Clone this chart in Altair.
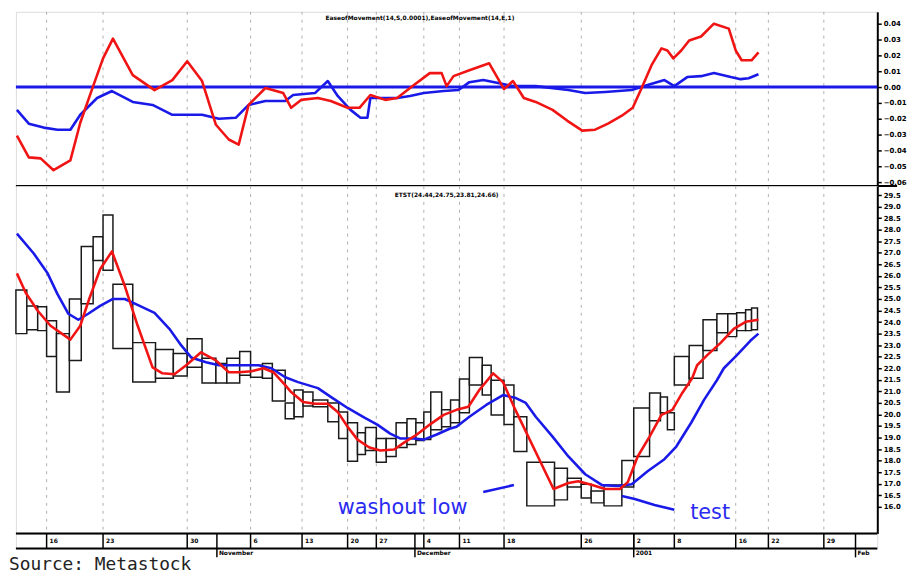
import altair as alt
import numpy as np
import pandas as pd

# ---------------- data ----------------
# Equivolume boxes: width = volume, top = high, bottom = low
box_volume = [11, 11, 9, 10, 13, 12, 12, 10, 10, 20, 23, 18, 14, 15, 14, 11, 13, 11, 12, 10,
              13, 9, 9, 10, 15, 11, 9, 10, 8, 11, 10, 10, 11, 9, 8, 7, 11, 9, 9, 10,
              13, 9, 13, 10, 13, 28, 13, 14, 10, 13, 18, 12, 16, 11, 7, 7, 15, 14, 14, 11,
              9, 9, 6, 6]
box_high = [25.39, 24.70, 24.66, 24.06, 23.50, 25.00, 27.27, 27.70, 28.64, 25.64, 23.11, 22.81, 22.64, 23.28,
            22.43, 22.21, 22.43, 22.73, 22.13, 22.21, 21.91, 20.50, 21.06, 20.97, 20.63, 20.50, 20.11, 19.64,
            19.21, 19.43, 18.96, 18.96, 19.64, 19.81, 19.64, 20.11, 20.97, 20.20, 20.63, 21.53, 22.47, 22.13,
            21.48, 21.27, 19.90, 17.93, 17.67, 17.24, 16.98, 16.68, 16.94, 18.01, 20.28, 20.93, 20.76, 20.07,
            22.51, 22.99, 24.10, 24.36, 24.36, 24.40, 24.53, 24.61]
box_low = [23.50, 23.67, 23.63, 22.51, 20.97, 22.34, 24.79, 26.67, 26.24, 22.86, 21.40, 21.57, 21.66, 22.04,
           21.36, 21.36, 21.36, 21.70, 21.61, 21.57, 20.58, 19.81, 19.90, 20.37, 20.33, 19.68, 18.96, 17.97,
           18.27, 18.44, 17.93, 18.18, 18.57, 18.70, 18.87, 18.91, 19.34, 19.47, 19.64, 20.07, 21.27, 20.84,
           19.98, 19.56, 18.40, 16.04, 16.30, 16.86, 16.38, 16.17, 16.04, 16.86, 18.18, 19.73, 20.07, 19.34,
           21.27, 21.57, 22.77, 23.54, 23.37, 23.63, 23.63, 23.67]

# price moving averages (position on the cumulative-volume axis, price)
ma_fast_u = [1, 10, 22, 35, 55, 65, 74, 85, 97, 110, 123, 138, 148, 160, 172, 187, 202, 215, 225, 238,
             250, 260, 272, 278, 290, 302, 315, 325, 335, 345, 357, 368, 382, 392, 405, 418, 432, 445, 457, 468,
             482, 492, 503, 543, 558, 568, 582, 595, 610, 618, 628, 640, 652, 663, 673, 683, 688, 698, 712, 725,
             737, 750]
ma_fast_p = [26.11, 25.26, 24.49, 23.84, 23.24, 23.84, 25.00, 26.29, 27.06, 25.56, 23.84, 22.04, 21.78, 21.74,
             22.13, 22.69, 22.34, 21.83, 21.83, 21.87, 22.00, 21.83, 21.27, 20.97, 20.54, 20.46, 20.46, 20.11,
             19.47, 18.91, 18.57, 18.44, 18.48, 18.78, 19.13, 19.56, 19.98, 20.20, 20.33, 21.06, 21.78, 21.40,
             20.33, 16.77, 17.03, 17.11, 16.94, 16.77, 16.77, 17.07, 18.18, 19.04, 19.98, 20.20, 20.93, 21.57,
             22.13, 22.56, 23.11, 23.71, 24.01, 24.10]
ma_slow_u = [1, 18, 32, 42, 53, 63, 73, 85, 98, 110, 125, 140, 155, 167, 177, 192, 205, 225, 245, 258,
             272, 285, 305, 318, 335, 352, 365, 378, 388, 402, 412, 425, 438, 445, 458, 475, 492, 505, 515, 525,
             542, 558, 575, 592, 608, 622, 638, 655, 667, 682, 695, 708, 715, 728, 742, 750]
ma_slow_p = [27.83, 26.97, 26.11, 25.21, 24.36, 24.10, 24.36, 24.70, 25.00, 25.00, 24.70, 24.40, 23.71, 22.99,
             22.47, 22.26, 22.13, 22.13, 22.13, 22.00, 21.61, 21.40, 21.14, 20.76, 20.28, 19.86, 19.56, 19.17,
             18.96, 18.96, 18.91, 19.13, 19.38, 19.47, 19.90, 20.41, 20.84, 20.71, 20.50, 19.90, 19.04, 18.18,
             17.41, 16.94, 16.90, 16.98, 17.54, 18.06, 18.61, 19.64, 20.63, 21.48, 22.00, 22.56, 23.20, 23.50]

# Ease of Movement (upper panel)
eom_fast_u = [1, 13, 25, 38, 55, 65, 78, 88, 98, 118, 140, 158, 173, 188, 202, 215, 225, 235, 252, 270,
              278, 288, 305, 318, 335, 347, 358, 373, 385, 402, 418, 430, 435, 442, 458, 478, 493, 502, 513, 525,
              542, 557, 572, 585, 598, 612, 623, 632, 642, 652, 658, 664, 672, 680, 692, 705, 720, 727, 733, 743,
              750]
eom_fast_v = [-0.0306, -0.0444, -0.0450, -0.0525, -0.0463, -0.0225, 0.0006, 0.0181, 0.0306, 0.0075, -0.0019,
              0.0044, 0.0163, 0.0038, -0.0238, -0.0331, -0.0363, -0.0113, -0.0006, -0.0038, -0.0131, -0.0081,
              -0.0069, -0.0088, -0.0131, -0.0131, -0.0050, -0.0081, -0.0069, 0.0013, 0.0088, 0.0088, 0.0006,
              0.0069, 0.0106, 0.0150, -0.0013, 0.0038, -0.0069, -0.0094, -0.0144, -0.0213, -0.0275, -0.0269,
              -0.0231, -0.0181, -0.0131, -0.0006, 0.0138, 0.0244, 0.0231, 0.0181, 0.0231, 0.0294, 0.0319,
              0.0400, 0.0369, 0.0231, 0.0169, 0.0169, 0.0219]
eom_slow_u = [1, 13, 28, 42, 55, 65, 82, 97, 118, 138, 158, 188, 205, 222, 235, 252, 272, 280, 302, 315,
              325, 338, 348, 355, 358, 368, 385, 398, 412, 432, 447, 458, 472, 492, 502, 525, 558, 575, 595, 622,
              638, 655, 665, 678, 692, 705, 722, 732, 740, 750]
eom_slow_v = [-0.0144, -0.0231, -0.0256, -0.0269, -0.0269, -0.0175, -0.0069, -0.0025, -0.0094, -0.0113,
              -0.0175, -0.0175, -0.0200, -0.0194, -0.0113, -0.0088, -0.0088, -0.0050, -0.0038, 0.0038,
              -0.0056, -0.0144, -0.0194, -0.0194, -0.0069, -0.0069, -0.0069, -0.0056, -0.0038, -0.0025,
              -0.0019, 0.0031, 0.0044, 0.0019, 0.0006, 0.0006, -0.0019, -0.0038, -0.0031, -0.0019,
              0.0013, 0.0044, 0.0006, 0.0063, 0.0069, 0.0088, 0.0063, 0.0050, 0.0056, 0.0081]
zero_level = [0.0]

# annotation pointers
washout_u = [472, 503]
washout_p = [16.64, 16.94]
test_u = [612, 625, 645, 665]
test_p = [16.47, 16.34, 16.08, 15.87]
note_text = ["washout low", "test"]
note_u = [325, 681]
note_p = [15.70, 15.48]

# time axis
date_tick_pos = [31, 88, 173, 237, 289, 335, 364, 412, 448, 493, 571, 624, 665, 727, 760, 816]
date_tick_labels = ["16", "23", "30", "6", "13", "20", "27", "4", "11", "18", "26", "2", "8", "16", "22", "29"]
month_pos = [203, 403, 624, 848]
month_labels = ["November", "December", "2001", "Feb"]

top_ticks = [0.04, 0.03, 0.02, 0.01, 0.0, -0.01, -0.02, -0.03, -0.04, -0.05, -0.06]
price_ticks = [29.5, 29.0, 28.5, 28.0, 27.5, 27.0, 26.5, 26.0, 25.5, 25.0, 24.5, 24.0, 23.5, 23.0,
               22.5, 22.0, 21.5, 21.0, 20.5, 20.0, 19.5, 19.0, 18.5, 18.0, 17.5, 17.0, 16.5, 16.0]

top_title = "EaseofMovement(14,S,0.0001),EaseofMovement(14,E,1)"
bottom_title = "ETST(24.44,24.75,23.81,24.66)"

# ---------------- frames ----------------
x_end = np.cumsum(box_volume)
boxes = pd.DataFrame({"x0": x_end - np.array(box_volume), "x1": x_end, "high": box_high, "low": box_low})
ma = pd.concat([
    pd.DataFrame({"u": ma_slow_u, "p": ma_slow_p, "s": "slow"}),
    pd.DataFrame({"u": ma_fast_u, "p": ma_fast_p, "s": "fast"}),
])
eom = pd.concat([
    pd.DataFrame({"u": eom_slow_u, "v": eom_slow_v, "s": "slow"}),
    pd.DataFrame({"u": eom_fast_u, "v": eom_fast_v, "s": "fast"}),
])
pointers = pd.concat([
    pd.DataFrame({"u": washout_u, "p": washout_p, "g": "w"}),
    pd.DataFrame({"u": test_u, "p": test_p, "g": "t"}),
])
notes = pd.DataFrame({"u": note_u, "p": note_p, "t": note_text})
dates = pd.DataFrame({"pos": date_tick_pos, "lab": date_tick_labels})
months = pd.DataFrame({"pos": month_pos, "lab": month_labels})

RED = "#f01414"
BLUE = "#1a1ae8"
W = 870
H_TOP = 176
H_BOT = 351
H_BAND = 15

xs = alt.Scale(domain=[0, W], nice=False, zero=False)
ys_top = alt.Scale(domain=[-0.0625, 0.0475], nice=False, zero=False)
ys_bot = alt.Scale(domain=[14.84, 29.89], nice=False, zero=False)

def right_axis(vals, fmt):
    return alt.Axis(orient="right", values=vals, format=fmt, title=None, grid=False,
                    domainColor="black", domainWidth=2, tickColor="black", tickSize=4,
                    tickWidth=1.5, labelFont="DejaVu Sans", labelFontSize=7,
                    labelFontWeight="bold", labelColor="black", labelPadding=2,
                    labelOverlap=False, labelFlush=False)

ax_top = right_axis(top_ticks, ".2f")
ax_bot = right_axis(price_ticks, ".1f")

X_u = alt.X("u:Q", scale=xs, axis=None)

grid_top = alt.Chart(dates).mark_rule(color="#b0b0b0", strokeDash=[3, 5], strokeWidth=1).encode(
    x=alt.X("pos:Q", scale=xs, axis=None))

zero = alt.Chart(pd.DataFrame({"v": zero_level})).mark_rule(color=BLUE, strokeWidth=3).encode(
    y=alt.Y("v:Q", scale=ys_top, axis=ax_top))

eom_lines = alt.Chart(eom).mark_line(strokeWidth=2.6, strokeJoin="round").encode(
    x=X_u,
    y=alt.Y("v:Q", scale=ys_top, axis=ax_top),
    color=alt.Color("s:N", scale=alt.Scale(domain=["slow", "fast"], range=[BLUE, RED]), legend=None),
)

sep = alt.Chart(pd.DataFrame({"a": [0]})).mark_rule(color="black", strokeWidth=2).encode(
    x=alt.value(0), x2=alt.value(890), y=alt.value(H_TOP))

top_lbl = alt.Chart(pd.DataFrame({"t": [top_title]})).mark_text(
    font="DejaVu Sans", fontSize=6, fontWeight="bold", color="black", align="center", baseline="middle"
).encode(x=alt.value(408), y=alt.value(6), text="t:N")

top = alt.layer(grid_top, zero, eom_lines, sep, top_lbl).properties(width=W, height=H_TOP)

box_marks = alt.Chart(boxes).mark_rect(fill="white", stroke="#1a1a1a", strokeWidth=1.5).encode(
    x=alt.X("x0:Q", scale=xs, axis=None), x2="x1:Q",
    y=alt.Y("high:Q", scale=ys_bot, axis=ax_bot), y2="low:Q")

ma_lines = alt.Chart(ma).mark_line(strokeWidth=2.6, strokeJoin="round").encode(
    x=X_u,
    y=alt.Y("p:Q", scale=ys_bot, axis=ax_bot),
    color=alt.Color("s:N", scale=alt.Scale(domain=["slow", "fast"], range=[BLUE, RED]), legend=None),
)

ptr = alt.Chart(pointers).mark_line(color=BLUE, strokeWidth=2.6).encode(
    x=X_u, y=alt.Y("p:Q", scale=ys_bot, axis=ax_bot), detail="g:N")

note_marks = alt.Chart(notes).mark_text(
    font="DejaVu Sans", fontSize=21, color="#2a2af0", align="left", baseline="alphabetic"
).encode(x=X_u, y=alt.Y("p:Q", scale=ys_bot, axis=ax_bot), text="t:N")

bot_lbl = alt.Chart(pd.DataFrame({"t": [bottom_title]})).mark_text(
    font="DejaVu Sans", fontSize=6, fontWeight="bold", color="black", align="center", baseline="middle"
).encode(x=alt.value(435), y=alt.value(9), text="t:N")

bottom = alt.layer(grid_top, box_marks, ma_lines, ptr, note_marks, bot_lbl).properties(width=W, height=H_BOT)

# ---------- time band ----------
one = pd.DataFrame({"a": [0]})
band_top = alt.Chart(one).mark_rule(color="black", strokeWidth=2).encode(
    x=alt.value(0), x2=alt.value(W), y=alt.value(0))
band_bot = alt.Chart(one).mark_rule(color="black", strokeWidth=2).encode(
    x=alt.value(0), x2=alt.value(W), y=alt.value(H_BAND))
d_ticks = alt.Chart(dates).mark_rule(color="black", strokeWidth=1.5).encode(
    x=alt.X("pos:Q", scale=xs, axis=None), y=alt.value(0), y2=alt.value(H_BAND))
d_labels = alt.Chart(dates).mark_text(
    font="DejaVu Sans", fontSize=6, fontWeight="bold", color="black", align="left", baseline="middle", dx=3
).encode(x=alt.X("pos:Q", scale=xs, axis=None), y=alt.value(8), text="lab:N")
m_ticks = alt.Chart(months).mark_rule(color="black", strokeWidth=1.5).encode(
    x=alt.X("pos:Q", scale=xs, axis=None), y=alt.value(0), y2=alt.value(24))
m_labels = alt.Chart(months).mark_text(
    font="DejaVu Sans", fontSize=6, fontWeight="bold", color="black", align="left", baseline="middle", dx=2
).encode(x=alt.X("pos:Q", scale=xs, axis=None), y=alt.value(20), text="lab:N")
source = alt.Chart(pd.DataFrame({"t": ["Source: Metastock"]})).mark_text(
    font="DejaVu Sans Mono", fontSize=18, color="#222222", align="left", baseline="alphabetic"
).encode(x=alt.value(-7), y=alt.value(37), text="t:N")

band = alt.layer(band_top, band_bot, d_ticks, d_labels, m_ticks, m_labels, source).properties(
    width=W, height=H_BAND)

chart = alt.vconcat(top, bottom, band, spacing=0, bounds="flush").properties(
    padding={"left": 0, "top": 0, "right": 0, "bottom": 0}
).configure_view(stroke=None).configure(background="white")

chart.save("out.html", embed_options={"renderer": "svg", "actions": False})
